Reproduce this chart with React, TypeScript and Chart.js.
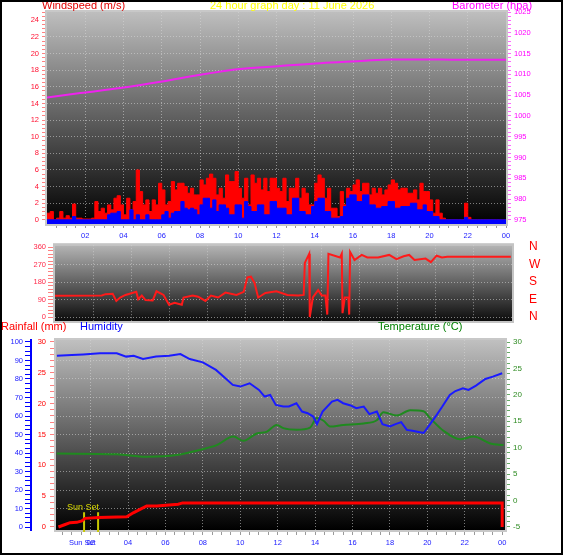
import React, { useEffect, useRef } from "react";
import { Chart, registerables } from "chart.js";
Chart.register(...registerables);

const FONT = "'Liberation Sans', Arial, sans-serif";
const GRID = "rgba(215,215,215,0.55)";

// ---------- Panel 1: wind speed (10-minute samples) & barometer ----------
const windSampleHours = 1 / 6;
const gustWind = [
  0.8, 1.0, 0, 0.2, 1.0, 0.2, 0.5, 0.2, 1.9, 0.2,
  0.2, 0.1, 0.1, 0.1, 0.2, 2.2, 1.0, 1.4, 0.8, 1.8,
  1.2, 2.6, 2.9, 1.8, 0.6, 2.6, 1.2, 2.2, 6.0, 3.4,
  1.8, 2.4, 1.0, 2.4, 1.8, 4.4, 3.6, 1.8, 2.2, 4.6,
  3.6, 4.4, 4.4, 4.0, 3.2, 3.8, 3.0, 3.0, 4.8, 4.2,
  5.0, 5.5, 5.0, 3.0, 3.8, 2.6, 5.4, 4.6, 4.6, 5.8,
  3.8, 2.6, 5.0, 1.8, 5.4, 4.4, 5.0, 3.6, 5.0, 3.4,
  5.0, 5.0, 3.8, 3.4, 5.0, 2.2, 3.8, 3.8, 5.0, 2.6,
  3.8, 3.2, 1.8, 1.8, 4.4, 5.4, 5.0, 2.6, 3.8, 1.4,
  1.4, 0.4, 3.4, 1.8, 3.8, 3.4, 4.2, 4.8, 3.4, 4.4,
  4.4, 3.0, 3.8, 3.2, 3.8, 3.0, 3.6, 4.2, 4.8, 4.4,
  3.6, 3.8, 3.8, 3.2, 3.2, 3.6, 2.4, 4.4, 3.4, 3.4,
  2.4, 0.8, 2.4, 0.8, 0.2, 0, 0, 0, 0, 0,
  0, 2.0, 0.3, 0, 0, 0, 0, 0, 0, 0,
  0, 0, 0, 0, 0,
];
const avgWind = [
  0, 0, 0, 0, 0, 0, 0, 0, 0.4, 0,
  0, 0, 0, 0, 0, 0, 0, 0, 0, 0.6,
  0.8, 0.8, 1.0, 0, 0, 0, 1.2, 0, 0.6, 0,
  0, 0.6, 0, 0, 0, 0, 0.6, 1.0, 0.2, 0.8,
  1.0, 1.0, 2.2, 1.4, 1.2, 1.4, 1.2, 0.6, 1.8, 2.6,
  2.6, 1.4, 2.4, 1.0, 1.8, 1.8, 1.4, 0.6, 0.6, 1.8,
  1.8, 0.2, 2.2, 1.6, 1.0, 1.0, 1.8, 1.8, 0.6, 0.6,
  2.2, 2.2, 1.4, 1.4, 1.4, 0.6, 0.6, 2.6, 2.6, 1.0,
  1.0, 0.6, 0.6, 1.6, 2.2, 2.6, 2.6, 1.0, 1.0, 0.2,
  0.2, 0.2, 0.4, 1.6, 2.6, 3.0, 3.0, 2.2, 2.2, 3.0,
  3.0, 1.8, 1.8, 1.4, 1.4, 1.6, 1.6, 2.2, 2.2, 1.4,
  1.4, 1.6, 1.6, 1.6, 2.0, 2.0, 1.2, 1.2, 1.8, 1.0,
  1.0, 0.4, 0.4, 0, 0, 0, 0, 0, 0, 0,
  0, 0.3, 0, 0, 0, 0, 0, 0, 0, 0,
  0, 0, 0, 0, 0,
];
const baroHours = [0, 1.74, 3.83, 5.93, 8.0, 10.1, 12.2, 14.3, 16.4, 18.0, 19.6, 21.6, 24];
const baroHpa = [1004.4, 1005.5, 1006.7, 1008.2, 1009.9, 1011.3, 1012.0, 1012.7, 1013.2, 1013.6, 1013.6, 1013.5, 1013.5];

// ---------- Panel 2: wind direction ----------
const dirHours = [
  0, 2.46, 2.65, 3.03, 3.22, 3.42, 3.7, 4.27, 4.37, 4.56, 4.75, 5.13, 5.33, 5.7, 5.99, 6.28, 6.66, 6.75,
  7.23, 7.52, 7.9, 8.19, 8.57, 8.95, 9.53, 9.91, 10.1, 10.29, 10.48, 10.67, 11.05, 11.63, 12.2, 12.77,
  13.06, 13.12, 13.35, 13.38, 13.54, 13.82, 14.01, 14.2, 14.3, 14.36, 14.97, 15.06, 15.1, 15.22, 15.41,
  15.45, 15.5, 15.73, 16.11, 16.4, 16.97, 17.55, 17.93, 18.31, 18.6, 18.88, 19.46, 19.74, 20.04, 20.32,
  20.6, 23.94,
];
const dirDegrees = [
  110, 111, 118, 120, 83, 101, 114, 130, 92, 111, 88, 86, 133, 114, 64, 74, 64, 101,
  111, 105, 83, 111, 101, 126, 114, 130, 204, 208, 176, 101, 124, 133, 114, 111,
  114, 279, 326, 0, 101, 139, 111, 111, 13, 326, 307, 326, 20, 101, 101,
  13, 335, 294, 320, 307, 307, 320, 298, 313, 320, 294, 301, 283, 316, 307,
  311, 311,
];
const compassLabels = { 0: "N", 90: "E", 180: "S", 270: "W", 360: "N" };

// ---------- Panel 3: rainfall, humidity, temperature ----------
const humHours = [
  0.2, 1.0, 1.6, 2.5, 3.4, 3.9, 4.3, 4.8, 5.5, 6.2, 6.8, 7.3, 8.0, 8.7, 9.1, 9.6, 10.0, 10.5, 11.0,
  11.3, 11.6, 11.9, 12.3, 12.6, 13.0, 13.3, 13.6, 13.9, 14.1, 14.4, 14.9, 15.2, 15.5, 15.9, 16.2, 16.6,
  16.9, 17.3, 17.6, 18.0, 18.3, 18.6, 18.9, 19.2, 19.4, 19.8, 20.1, 20.5, 20.8, 21.2, 21.5, 21.9, 22.2,
  22.6, 23.1, 23.5, 24.0,
];
const humidity = [
  92.6, 93.0, 93.3, 93.9, 93.9, 92.1, 92.6, 90.8, 92.1, 92.6, 93.5, 90.8, 89.0, 84.9, 81.3, 76.8, 75.9,
  77.7, 74.1, 70.5, 71.4, 66.0, 65.2, 65.2, 66.9, 62.4, 61.5, 59.7, 55.6, 62.4, 67.8, 68.7, 66.9, 65.7,
  64.2, 65.1, 61.0, 62.4, 55.6, 54.4, 55.6, 56.7, 52.5, 52.0, 51.6, 50.8, 54.9, 60.6, 65.1, 71.4, 73.5,
  75.0, 74.1, 76.4, 80.0, 81.3, 83.1,
];
const tempHours = [
  0.19, 3.4, 5.0, 6.6, 7.85, 8.74, 9.63, 10.17, 10.88, 11.4, 11.95, 12.3, 13.02, 13.73, 14.09, 14.45,
  14.8, 15.5, 16.59, 17.3, 17.65, 18.37, 19.08, 19.79, 20.15, 20.86, 21.75, 22.47, 23.36, 24.07,
];
const temperature = [
  8.9, 8.75, 8.3, 8.6, 9.6, 10.5, 12.1, 11.3, 12.7, 13.0, 14.3, 13.7, 13.4, 13.8, 15.6, 15.1,
  14.0, 14.3, 14.6, 15.2, 16.7, 16.1, 17.1, 16.9, 15.6, 13.2, 11.6, 12.1, 10.8, 10.5,
];
const rainHours = [0.28, 0.64, 0.9, 1.26, 1.53, 1.7, 2.42, 3.93, 4.28, 4.64, 5.0, 5.53, 6.68, 6.92, 24.0, 24.0];
const rainMm = [0, 0.4, 0.7, 0.75, 1.0, 1.4, 1.55, 1.67, 2.3, 2.85, 3.4, 3.4, 3.7, 3.9, 3.9, 0];
const sunSetHours = [1.65, 2.4];
const sunSetMarkMm = [2.4, -0.8];

// ---------- helpers ----------
const range = (a: number, b: number, s: number) => {
  const r: number[] = [];
  for (let v = a; v <= b + 1e-9; v += s) r.push(Math.round(v * 1000) / 1000);
  return r;
};
const setTicks = (arr: number[]) => (scale: any) => {
  scale.ticks = arr.map((v) => ({ value: v }));
};
const fixW = (w: number) => (scale: any) => {
  scale.width = w;
};
const fixH = (h: number) => (scale: any) => {
  scale.height = h;
};
const pts = (xs: number[], ys: number[]) => ys.map((y, i) => ({ x: xs[i], y }));
const majorGrid = (step: number, skip: number[] = []) => (ctx: any) =>
  ctx.tick && Math.abs(ctx.tick.value % step) < 1e-6 && !skip.includes(ctx.tick.value) ? GRID : "transparent";
const hourLabel = (v: any) => (Math.abs(v % 2) < 1e-6 && v > 0 ? String(v % 24).padStart(2, "0") : "");
const tickFont = (size = 7.5) => ({ size, family: FONT });

const bgPlugin = {
  id: "bg",
  beforeDraw(chart: any, _a: any, opts: any) {
    const { ctx, chartArea: a } = chart;
    const g = ctx.createLinearGradient(0, a.top, 0, a.bottom);
    g.addColorStop(0, opts.top);
    g.addColorStop(1, opts.bottom);
    ctx.save();
    ctx.fillStyle = g;
    ctx.fillRect(a.left, a.top, a.right - a.left, a.bottom - a.top);
    ctx.restore();
  },
  beforeDatasetsDraw(chart: any, _a: any, opts: any) {
    const { ctx, chartArea: a } = chart;
    ctx.save();
    ctx.strokeStyle = opts.frame;
    ctx.lineWidth = 2;
    ctx.strokeRect(a.left - 1, a.top - 1, a.right - a.left + 2, a.bottom - a.top + 2);
    ctx.restore();
  },
};

const baseOptions = (bg: any, padding: any) => ({
  responsive: false,
  animation: false as const,
  events: [] as any[],
  layout: { padding },
  plugins: { legend: { display: false }, tooltip: { enabled: false }, bg },
});

function windConfig(): any {
  return {
    type: "line",
    data: {
      datasets: [
        {
          data: pts(baroHours, baroHpa), yAxisID: "baro", borderColor: "#ee22ee", borderWidth: 2,
          pointRadius: 0, cubicInterpolationMode: "monotone", order: 0,
        },
        {
          data: avgWind.map((v, i) => ({ x: i * windSampleHours, y: v })), yAxisID: "wind",
          borderColor: "#0000ff", backgroundColor: "#0000ff", borderWidth: 1, pointRadius: 0,
          stepped: true, fill: "start", order: 1,
        },
        {
          data: gustWind.map((v, i) => ({ x: i * windSampleHours, y: v })), yAxisID: "wind",
          borderColor: "#ff0000", backgroundColor: "#ff0000", borderWidth: 1, pointRadius: 0,
          stepped: true, fill: "start", order: 2,
        },
      ],
    },
    options: {
      ...baseOptions({ top: "#bebebe", bottom: "#000000", frame: "#c8c8c8" }, { top: 12, bottom: 0, left: 0, right: 0 }),
      scales: {
        x: {
          type: "linear", min: 0, max: 24, afterBuildTicks: setTicks(range(0.5, 24, 0.5)), afterFit: fixH(16),
          ticks: { color: "#1a1aff", font: tickFont(), padding: 3, autoSkip: false, maxRotation: 0, callback: hourLabel },
          grid: { color: majorGrid(2, [24]), tickColor: "#9a9a9a", tickLength: 4 },
          border: { display: false, dash: [1, 2] },
        },
        wind: {
          type: "linear", position: "left", min: -0.5, max: 25, afterBuildTicks: setTicks(range(0, 25, 0.5)),
          afterFit: fixW(47),
          ticks: { color: "#ff1030", font: tickFont(), padding: 3, autoSkip: false, callback: (v: any) => (v % 2 === 0 ? String(v) : "") },
          grid: { color: majorGrid(2, [0, 24]), tickColor: "#ff8080", tickLength: 5 },
          border: { display: false, dash: [1, 2] },
        },
        baro: {
          type: "linear", position: "right", min: 974, max: 1025, afterBuildTicks: setTicks(range(975, 1025, 1)),
          afterFit: fixW(60),
          ticks: { color: "#ff00ff", font: tickFont(), padding: 3, autoSkip: false, callback: (v: any) => (v % 5 === 0 ? String(v) : "") },
          grid: { drawOnChartArea: false, tickColor: "#ff66ff", tickLength: 5 },
          border: { display: false },
        },
      },
    },
    plugins: [bgPlugin],
  };
}

function dirConfig(): any {
  return {
    type: "line",
    data: {
      datasets: [
        { data: pts(dirHours, dirDegrees), yAxisID: "dir", borderColor: "#ff1a1a", borderWidth: 2, pointRadius: 0 },
      ],
    },
    options: {
      ...baseOptions({ top: "#b4b4b4", bottom: "#0c0c0c", frame: "#c4c4c4" }, { top: 7, bottom: 9, left: 0, right: 0 }),
      scales: {
        x: {
          type: "linear", min: 0, max: 24, afterBuildTicks: setTicks(range(2, 22, 2)), afterFit: fixH(0),
          ticks: { display: false },
          grid: { color: GRID, drawTicks: false },
          border: { display: false, dash: [1, 2] },
        },
        dir: {
          type: "linear", position: "left", min: -20, max: 370, afterBuildTicks: setTicks(range(0, 360, 18)),
          afterFit: fixW(55),
          ticks: { color: "#ff2a4a", font: tickFont(), padding: 2, autoSkip: false, callback: (v: any) => (v % 90 === 0 ? String(v) : "") },
          grid: { color: majorGrid(90, [360]), tickColor: "#ff8080", tickLength: 7 },
          border: { display: false, dash: [1, 2] },
        },
        compass: {
          type: "linear", position: "right", min: -20, max: 370, afterBuildTicks: setTicks([0, 90, 180, 270, 360]),
          afterFit: fixW(54),
          ticks: { color: "#ff0000", font: { size: 12, family: FONT }, padding: 0, autoSkip: false, callback: (v: any) => (compassLabels as any)[v] || "" },
          grid: { drawOnChartArea: false, drawTicks: true, tickLength: 17, tickColor: "rgba(0,0,0,0)" },
          border: { display: false },
        },
      },
    },
    plugins: [bgPlugin],
  };
}

function climateConfig(): any {
  const sunSets = sunSetHours.map((h) => ({
    data: sunSetMarkMm.map((mm) => ({ x: h, y: mm })), yAxisID: "rain", borderColor: "#c8c800",
    borderWidth: 2, pointRadius: 0, clip: false, order: 3,
  }));
  return {
    type: "line",
    data: {
      datasets: [
        { data: pts(humHours, humidity), yAxisID: "hum", borderColor: "#1a1aff", borderWidth: 2, pointRadius: 0, order: 0 },
        { data: pts(tempHours, temperature), yAxisID: "temp", borderColor: "#1f8a1f", borderWidth: 2, pointRadius: 0, cubicInterpolationMode: "monotone", order: 1 },
        { data: pts(rainHours, rainMm), yAxisID: "rain", borderColor: "#ff0000", borderWidth: 3, pointRadius: 0, order: 2 },
        ...sunSets,
      ],
    },
    options: {
      ...baseOptions({ top: "#c0c0c0", bottom: "#000000", frame: "#c8c8c8" }, { top: 10, bottom: 0, left: 0, right: 0 }),
      scales: {
        x: {
          type: "linear", min: 0.15, max: 24.15, afterBuildTicks: setTicks(range(0.5, 24, 0.5)), afterFit: fixH(25),
          ticks: { color: "#1a1aff", font: tickFont(), padding: 3, autoSkip: false, maxRotation: 0, callback: hourLabel },
          grid: { color: majorGrid(2, [24]), tickColor: "#9a9a9a", tickLength: 5 },
          border: { display: false, dash: [1, 2] },
        },
        hum: {
          type: "linear", position: "left", weight: 1, min: -1.62, max: 101.08, afterBuildTicks: setTicks(range(0, 100, 2.5)),
          afterFit: fixW(31),
          ticks: { color: "#1a1aff", font: tickFont(), padding: 2, autoSkip: false, callback: (v: any) => (v % 10 === 0 ? String(v) : "") },
          grid: { color: majorGrid(10, [0, 100]), tickColor: "#0000ff", tickLength: 6 },
          border: { display: true, color: "#0000ff", width: 2, dash: [1, 2] },
        },
        rain: {
          type: "linear", position: "left", weight: 0, min: -0.49, max: 30.32, afterBuildTicks: setTicks(range(0, 30, 1)),
          afterFit: fixW(25),
          ticks: { color: "#ff0000", font: tickFont(), padding: 4, autoSkip: false, callback: (v: any) => (v % 5 === 0 ? String(v) : "") },
          grid: { drawOnChartArea: false, tickColor: "#ff8080", tickLength: 6 },
          border: { display: false },
        },
        temp: {
          type: "linear", position: "right", min: -5.57, max: 30.38, afterBuildTicks: setTicks(range(-5, 30, 1)),
          afterFit: fixW(61),
          ticks: { color: "#2e8b22", font: tickFont(8), padding: 3, autoSkip: false, callback: (v: any) => (v % 5 === 0 ? String(v) : "") },
          grid: { drawOnChartArea: false, tickColor: "#66aa66", tickLength: 5 },
          border: { display: false },
        },
      },
    },
    plugins: [bgPlugin],
  };
}

const txt = (left: number, top: number, size: number, color: string): React.CSSProperties => ({
  position: "absolute", left, top, fontSize: size, color, fontFamily: FONT, lineHeight: 1, whiteSpace: "nowrap",
});

export default function App() {
  const c1 = useRef<HTMLCanvasElement>(null);
  const c2 = useRef<HTMLCanvasElement>(null);
  const c3 = useRef<HTMLCanvasElement>(null);
  useEffect(() => {
    const charts = [
      new Chart(c1.current as HTMLCanvasElement, windConfig()),
      new Chart(c2.current as HTMLCanvasElement, dirConfig()),
      new Chart(c3.current as HTMLCanvasElement, climateConfig()),
    ];
    return () => charts.forEach((c) => c.destroy());
  }, []);
  return (
    <div style={{ position: "absolute", left: 0, top: 0, width: 566, height: 555, background: "#ffffff", overflow: "hidden" }}>
      <canvas ref={c1} width={566} height={240} style={{ position: "absolute", left: 0, top: 0 }} />
      <canvas ref={c2} width={566} height={92} style={{ position: "absolute", left: 0, top: 238 }} />
      <canvas ref={c3} width={566} height={225} style={{ position: "absolute", left: 0, top: 330 }} />
      <div style={txt(42, 0, 11, "#e00000")}>Windspeed (m/s)</div>
      <div style={txt(210, 0, 11, "#ffff00")}>24 hour graph day : 11 June 2026</div>
      <div style={txt(452, 0, 11, "#ff00ff")}>Barometer (hpa)</div>
      <div style={txt(1, 321, 11, "#ff0000")}>Rainfall (mm)</div>
      <div style={txt(80, 321, 11, "#0000ff")}>Humidity</div>
      <div style={txt(378, 321, 11, "#008000")}>Temperature (°C)</div>
      <div style={txt(67, 503, 9, "#d8d800")}>Sun Set</div>
      <div style={txt(69, 538.5, 7.5, "#1a1aff")}>Sun Set</div>
      <div style={{ position: "absolute", left: 0, top: 0, width: 563, height: 555, border: "2px solid #000", boxSizing: "border-box", pointerEvents: "none" }} />
    </div>
  );
}
